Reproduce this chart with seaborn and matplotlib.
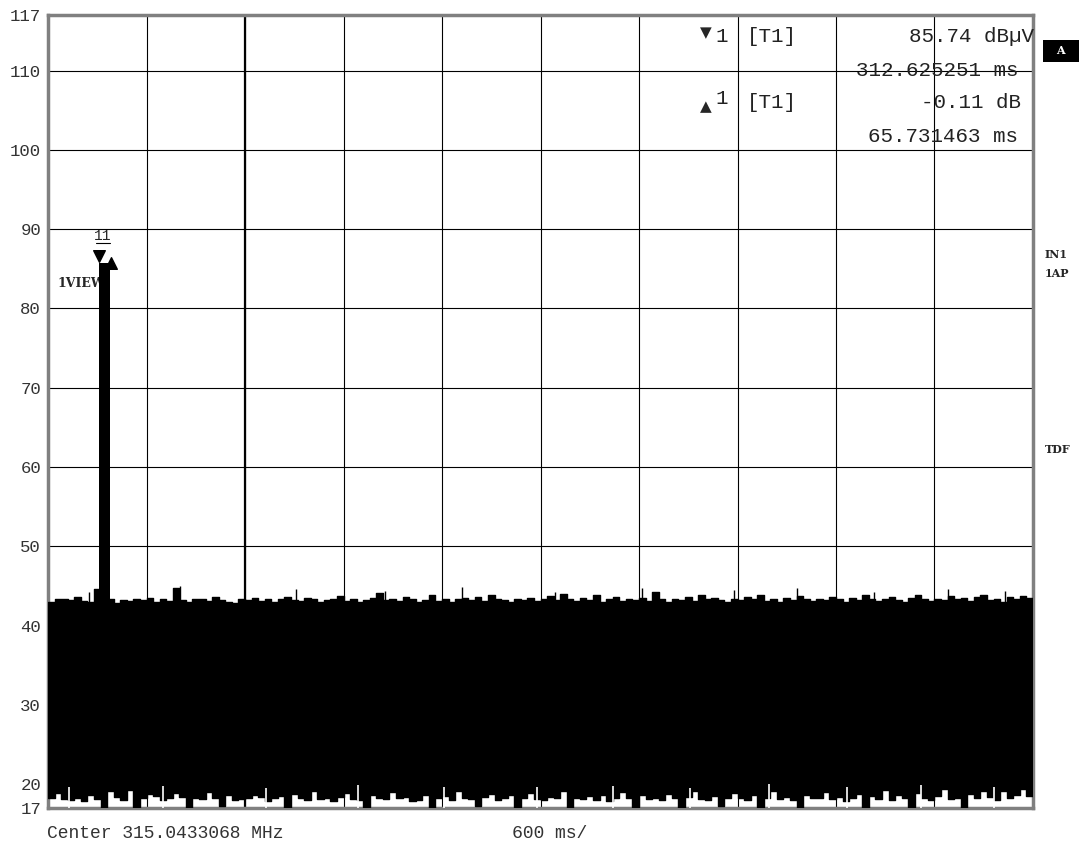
import numpy as np
import matplotlib
matplotlib.use("Agg")
import matplotlib.pyplot as plt
import matplotlib.patches as mpatches
import seaborn as sns

# sweep: 0 .. 6000 ms (600 ms/div), noise trace sampled every 40 ms
sweep_ms = 6000
step_ms = 40

# upper envelope of the noise (dBuV)
noise_max = [
    43.0, 43.4, 43.3, 43.2, 43.6, 43.1, 43.0, 44.6, 44.6, 43.3, 42.9, 43.2, 43.1, 43.4, 43.2,
    43.5, 43.0, 43.3, 43.1, 44.7, 43.2, 43.0, 43.4, 43.3, 43.1, 43.6, 43.2, 43.0, 42.9, 43.3,
    43.2, 43.5, 43.1, 43.4, 43.0, 43.3, 43.6, 43.2, 43.1, 43.5, 43.3, 43.0, 43.2, 43.4, 43.7,
    43.1, 43.3, 43.0, 43.2, 43.5, 44.1, 43.2, 43.4, 43.1, 43.6, 43.3, 43.0, 43.2, 43.8, 43.1,
    43.4, 43.0, 43.3, 43.5, 43.2, 43.6, 43.1, 43.9, 43.3, 43.2, 43.0, 43.4, 43.2, 43.5, 43.1,
    43.3, 43.7, 43.2, 44.0, 43.3, 43.1, 43.5, 43.2, 43.8, 43.0, 43.4, 43.6, 43.1, 43.3, 43.2,
    43.5, 43.1, 44.2, 43.3, 43.0, 43.4, 43.2, 43.6, 43.1, 43.8, 43.3, 43.5, 43.2, 43.0, 43.4,
    43.2, 43.6, 43.3, 43.9, 43.1, 43.4, 43.0, 43.5, 43.2, 43.7, 43.3, 43.1, 43.4, 43.2, 43.6,
    43.3, 43.0, 43.5, 43.2, 43.8, 43.4, 43.1, 43.3, 43.6, 43.2, 43.0, 43.5, 43.9, 43.3, 43.1,
    43.4, 43.2, 43.7, 43.3, 43.5, 43.1, 43.6, 43.8, 43.2, 43.4, 43.0, 43.6, 43.3, 43.7, 43.5,
]

# lower envelope of the noise (dBuV)
noise_min = [
    18.3, 18.9, 18.1, 18.0, 18.2, 17.9, 18.6, 18.1, 17.0, 19.1, 18.4, 18.0, 19.3, 17.1, 18.2,
    18.8, 18.5, 18.0, 18.3, 18.9, 18.4, 17.0, 18.2, 18.1, 19.0, 18.3, 17.2, 18.6, 18.0, 18.1,
    18.2, 18.7, 18.4, 17.9, 18.2, 18.5, 17.0, 18.8, 18.3, 18.0, 19.2, 18.1, 18.2, 17.9, 18.4,
    18.9, 18.1, 18.0, 17.1, 18.6, 18.3, 18.1, 19.0, 18.2, 18.4, 17.9, 18.0, 18.7, 17.0, 18.3,
    18.5, 18.0, 19.1, 18.2, 18.1, 17.2, 18.4, 18.8, 18.0, 18.3, 18.6, 17.1, 18.2, 18.9, 18.1,
    18.0, 18.4, 18.2, 19.2, 17.0, 18.3, 18.1, 18.5, 18.0, 18.7, 17.9, 18.2, 19.0, 18.3, 17.1,
    18.6, 18.1, 18.3, 18.0, 18.8, 18.2, 17.0, 18.4, 19.1, 18.1, 18.0, 18.5, 17.2, 18.3, 18.9,
    18.2, 18.0, 18.6, 17.1, 18.3, 19.2, 18.1, 18.4, 18.0, 17.0, 18.7, 18.2, 18.3, 19.0, 18.1,
    18.4, 17.9, 18.2, 18.8, 17.0, 18.5, 18.1, 19.3, 18.0, 18.6, 18.2, 17.1, 18.9, 18.3, 18.0,
    18.5, 19.4, 18.1, 18.3, 17.0, 18.8, 18.2, 19.1, 18.4, 18.0, 19.2, 18.3, 18.6, 19.4, 18.5,
]

# single-sample spikes on top of / below the envelopes
spike_hi_ms = [250, 805, 1510, 2050, 2520, 3090, 3620, 4180, 4560, 5030, 5480, 5830]
spike_hi_db = [44.2, 45.0, 44.6, 44.4, 44.9, 44.3, 44.8, 44.5, 44.7, 44.3, 44.6, 44.4]
spike_lo_ms = [130, 700, 1330, 1890, 2410, 2980, 3440, 3910, 4390, 4870, 5320, 5760]
spike_lo_db = [19.6, 19.8, 19.5, 19.9, 19.6, 19.7, 19.8, 19.5, 20.0, 19.6, 19.9, 19.7]

# burst between marker 1 and delta marker
peak_ms = [312.625251, 378.356714]
peak_db = [85.74, 85.63]

y_ticks = [17, 20, 30, 40, 50, 60, 70, 80, 90, 100, 110, 117]

marker_rows = [
    ("\u25bc", "1", "[T1]", "85.74 dB\u00b5V", "312.625251 ms"),
    ("\u25b2", "1", "[T1]", "-0.11 dB", "65.731463 ms"),
]

W, H = 1084, 846
def px(x, y):
    return x / W, 1 - y / H

sns.set_style("white")
plt.rcParams["font.family"] = ["Liberation Mono", "DejaVu Sans"]

fig = plt.figure(figsize=(W / 100, H / 100), dpi=100)
ax = fig.add_axes([48 / W, 38 / H, 985 / W, 793 / H])

t = np.arange(len(noise_max) + 1) * step_ms
upper = noise_max + [noise_max[-1]]
lower = noise_min + [noise_min[-1]]

ax.fill_between(t, lower, upper, step="post", color="black", lw=0, zorder=3)
sns.lineplot(x=t, y=upper, drawstyle="steps-post", color="black", lw=1,
             estimator=None, sort=False, ax=ax, zorder=3)
sns.lineplot(x=t, y=lower, drawstyle="steps-post", color="black", lw=1,
             estimator=None, sort=False, ax=ax, zorder=3)
ax.vlines(spike_hi_ms, 42.5, spike_hi_db, color="black", lw=1, zorder=3)
ax.vlines(spike_lo_ms, 17, spike_lo_db, color="white", lw=1.2, zorder=3)
ax.fill_between(peak_ms, [43, 43], [peak_db[0], peak_db[0]], color="black", lw=0, zorder=3)

# markers
ax.scatter([peak_ms[0]], [peak_db[0] + 0.9], marker="v", s=70, color="black", zorder=5)
ax.scatter([peak_ms[1] + 5], [peak_db[1] + 0.1], marker="^", s=70, color="black", zorder=5)
ax.text(335, 88.3, "11", fontsize=10.5, ha="center", va="bottom", zorder=5)
ax.plot([290, 380], [88.2, 88.2], color="black", lw=0.8, zorder=5)
ax.text(55, 83.1, "1VIEW", fontsize=9, weight="bold", family="DejaVu Serif",
        ha="left", va="center", zorder=1)

ax.set_xlim(0, sweep_ms)
ax.set_ylim(17, 117)
ax.set_xticks(np.arange(0, sweep_ms + 1, 600))
ax.set_xticklabels([])
ax.set_yticks(y_ticks)
ax.set_yticklabels([str(v) for v in y_ticks], fontsize=12.5, color="#333333")
ax.tick_params(length=0, pad=5)
ax.grid(True, color="black", lw=0.8)
ax.axvline(1200, color="black", lw=1.6, zorder=2)
ax.set_axisbelow(True)
for s in ax.spines.values():
    s.set_color("#808080")
    s.set_linewidth(2.5)

# marker info table
for i, (tri, num, trace, lvl, tim) in enumerate(marker_rows):
    y0 = 37 + i * 66
    ty = y0 - 4 if i == 0 else y0 + 4
    ny = y0 if i == 0 else y0 - 4
    fig.text(*px(706, ty), tri, fontsize=11, family="DejaVu Sans", ha="center", va="center")
    fig.text(*px(722, ny), num, fontsize=15, ha="center", va="center", color="#222222")
    fig.text(*px(772, y0), trace, fontsize=15, ha="center", va="center", color="#222222")
    fig.text(*px(1034 if i == 0 else 1021, y0), lvl, fontsize=15, ha="right", va="center",
             color="#222222")
    fig.text(*px(1018, y0 + 33), tim, fontsize=15, ha="right", va="center", color="#222222")

fig.patches.append(mpatches.Rectangle(px(1043, 62), 36 / W, 22 / H, transform=fig.transFigure,
                                      fc="black", ec="none"))
fig.text(*px(1060, 50), "A", fontsize=8, weight="bold", color="white", family="DejaVu Serif",
         ha="center", va="center")
for lab, yy in [("IN1", 255), ("1AP", 273), ("TDF", 449)]:
    fig.text(*px(1045, yy), lab, fontsize=8, weight="bold", family="DejaVu Serif",
             ha="left", va="center")

fig.text(*px(47, 833), "Center 315.0433068 MHz", fontsize=13, color="#333333",
         ha="left", va="center")
fig.text(*px(512, 833), "600 ms/", fontsize=13, color="#333333", ha="left", va="center")

fig.savefig("out.png", dpi=100, facecolor="white")
